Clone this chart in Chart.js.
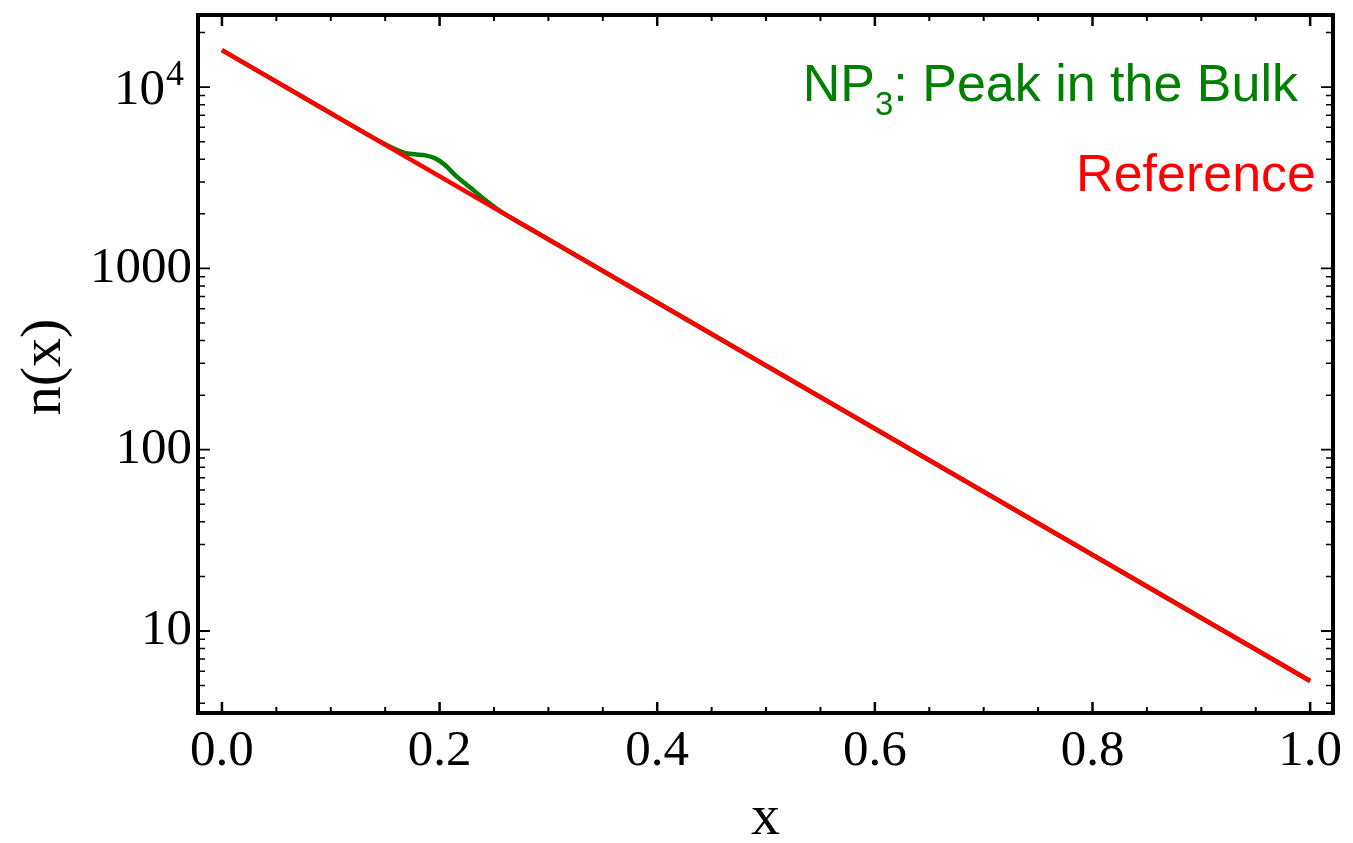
<!DOCTYPE html>
<html>
<head>
<meta charset="utf-8">
<script src="https://cdn.jsdelivr.net/npm/chart.js@4.4.0/dist/chart.umd.min.js"></script>
<style>
  html, body { margin: 0; padding: 0; background: #fff; }
</style>
</head>
<body>
<canvas id="grafico" width="1353" height="843"></canvas>
<script>
// ---- dados ----
const xReferencia = [0, 1];
const nReferencia = [16000, 5.3];

const xPico = [0, 0.05, 0.1, 0.13, 0.15, 0.159, 0.168, 0.1775, 0.187, 0.196, 0.205, 0.214, 0.223, 0.233, 0.242, 0.251, 0.26, 0.28, 0.4, 0.7, 1];
const nPico  = [16000, 10720, 7180, 5645, 4845, 4560, 4330, 4261, 4202, 4047, 3723, 3285, 2958, 2644, 2382, 2167, 1992, 1697, 649, 58.6, 5.3];

const xTicks = [0, 0.2, 0.4, 0.6, 0.8, 1.0];
const xTickLabels = ['0.0', '0.2', '0.4', '0.6', '0.8', '1.0'];
const xMinorTicks = [0.05, 0.1, 0.15, 0.25, 0.3, 0.35, 0.45, 0.5, 0.55, 0.65, 0.7, 0.75, 0.85, 0.9, 0.95];

const yTicks = [10, 100, 1000, 10000];
const yTickLabels = ['10', '100', '1000', ''];  // 10^4 desenhado à parte (expoente)
const yMinorTicks = [4, 5, 6, 7, 8, 9, 20, 30, 40, 50, 60, 70, 80, 90,
  200, 300, 400, 500, 600, 700, 800, 900, 2000, 3000, 4000, 5000, 6000, 7000, 8000, 9000, 20000];

const legendaPico = 'NP';
const legendaPicoSub = '3';
const legendaPicoResto = ': Peak in the Bulk';
const legendaReferencia = 'Reference';

const VERDE = '#008000';
const VERMELHO = '#ff0000';
const SERIF = '"Liberation Serif", "Times New Roman", serif';
const SANS = '"Liberation Sans", Arial, sans-serif';

const pontos = (xs, ys) => xs.map((x, i) => ({ x, y: ys[i] }));

// ---- moldura, marcas internas, títulos e legenda ----
const quadroPlugin = {
  id: 'quadro',
  afterDraw(chart) {
    const { ctx, chartArea: a, scales: { x, y } } = chart;
    ctx.save();
    ctx.strokeStyle = '#000';

    const marcaX = (v, len, w) => {
      const px = x.getPixelForValue(v);
      ctx.lineWidth = w;
      ctx.beginPath();
      ctx.moveTo(px, a.bottom); ctx.lineTo(px, a.bottom - len);
      ctx.moveTo(px, a.top); ctx.lineTo(px, a.top + len);
      ctx.stroke();
    };
    const marcaY = (v, len, w) => {
      const py = y.getPixelForValue(v);
      ctx.lineWidth = w;
      ctx.beginPath();
      ctx.moveTo(a.left, py); ctx.lineTo(a.left + len, py);
      ctx.moveTo(a.right, py); ctx.lineTo(a.right - len, py);
      ctx.stroke();
    };
    xTicks.forEach(v => marcaX(v, 11, 2.5));
    xMinorTicks.forEach(v => marcaX(v, 6, 2));
    yTicks.forEach(v => marcaY(v, 12, 1.8));
    yMinorTicks.forEach(v => marcaY(v, 7, 1.5));

    ctx.lineWidth = 4;
    ctx.strokeRect(a.left, a.top, a.right - a.left, a.bottom - a.top);

    // rótulo 10^4
    ctx.fillStyle = '#000';
    const p4 = y.getPixelForValue(10000);
    ctx.textAlign = 'right';
    ctx.textBaseline = 'alphabetic';
    ctx.font = '51px ' + SERIF;
    ctx.fillText('10', 165, p4 + 17);
    ctx.textAlign = 'left';
    ctx.font = '36px ' + SERIF;
    ctx.fillText('4', 166, p4 - 2);

    // títulos dos eixos
    ctx.font = '58px ' + SERIF;
    ctx.textAlign = 'center';
    ctx.fillText('x', (a.left + a.right) / 2, 834);
    ctx.save();
    ctx.translate(60, (a.top + a.bottom) / 2 + 3);
    ctx.rotate(-Math.PI / 2);
    ctx.fillText('n(x)', 0, 0);
    ctx.restore();

    // legenda
    ctx.textAlign = 'left';
    ctx.fillStyle = VERDE;
    ctx.font = '52px ' + SANS;
    const w1 = ctx.measureText(legendaPico).width;
    const w3 = ctx.measureText(legendaPicoResto).width;
    ctx.font = '33px ' + SANS;
    const w2 = ctx.measureText(legendaPicoSub).width;
    let xi = 1298 - (w1 + w2 + w3);
    ctx.font = '52px ' + SANS;
    ctx.fillText(legendaPico, xi, 101);
    ctx.font = '33px ' + SANS;
    ctx.fillText(legendaPicoSub, xi + w1, 115);
    ctx.font = '52px ' + SANS;
    ctx.fillText(legendaPicoResto, xi + w1 + w2, 101);

    ctx.fillStyle = VERMELHO;
    ctx.textAlign = 'right';
    ctx.fillText(legendaReferencia, 1316, 191);
    ctx.restore();
  }
};

const ctx = document.getElementById('grafico');
new Chart(ctx, {
  type: 'scatter',
  data: {
    datasets: [
      {
        label: 'Reference',
        data: pontos(xReferencia, nReferencia),
        showLine: true,
        borderColor: VERMELHO,
        borderWidth: 4.5,
        pointRadius: 0,
        order: 0
      },
      {
        label: 'NP3: Peak in the Bulk',
        data: pontos(xPico, nPico),
        showLine: true,
        borderColor: VERDE,
        borderWidth: 4.5,
        pointRadius: 0,
        cubicInterpolationMode: 'monotone',
        order: 1
      }
    ]
  },
  options: {
    responsive: false,
    animation: false,
    devicePixelRatio: 1,
    layout: { padding: { top: 15, right: 20, left: 0, bottom: 0 } },
    plugins: {
      legend: { display: false },
      tooltip: { enabled: false }
    },
    scales: {
      x: {
        type: 'linear',
        min: -0.022,
        max: 1.021,
        grid: { display: false, drawTicks: false },
        border: { display: false },
        afterBuildTicks: (s) => { s.ticks = xTicks.map(v => ({ value: v })); },
        afterFit: (s) => { s.height = 130; s.paddingLeft = 0; s.paddingRight = 0; },
        ticks: {
          autoSkip: false,
          maxRotation: 0,
          padding: 8,
          color: '#000',
          font: { family: SERIF, size: 51 },
          callback: (v) => xTickLabels[xTicks.indexOf(v)] ?? ''
        }
      },
      y: {
        type: 'logarithmic',
        min: 3.53,
        max: 25000,
        grid: { display: false, drawTicks: false },
        border: { display: false },
        afterBuildTicks: (s) => { s.ticks = yTicks.map(v => ({ value: v })); },
        afterFit: (s) => { s.width = 198; s.paddingTop = 0; s.paddingBottom = 0; },
        ticks: {
          autoSkip: false,
          padding: 6,
          color: '#000',
          font: { family: SERIF, size: 51 },
          callback: (v) => yTickLabels[yTicks.indexOf(v)] ?? ''
        }
      }
    }
  },
  plugins: [quadroPlugin]
});
</script>
</body>
</html>
